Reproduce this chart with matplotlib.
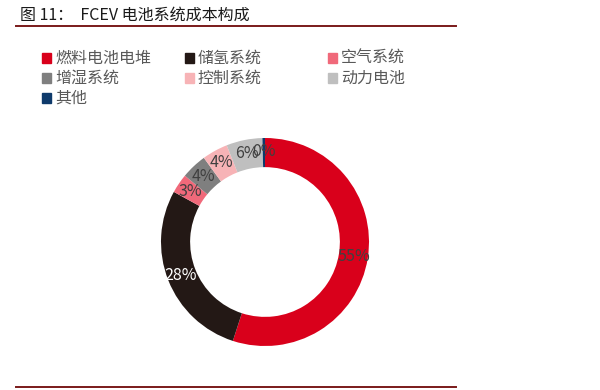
import matplotlib.pyplot as plt
from matplotlib.patches import Rectangle
from matplotlib.lines import Line2D

plt.rcParams['font.family'] = ['Noto Sans CJK SC', 'DejaVu Sans']

labels = ["燃料电池电堆", "储氢系统", "空气系统", "增湿系统", "控制系统", "动力电池", "其他"]
values = [55, 28, 3, 4, 4, 5.6, 0.4]
colors = ["#D9001B", "#231815", "#F0697A", "#7F7F7F", "#F7B3B6", "#BFBFBF", "#0E3A6B"]
text_colors = ["#404040", "white", "#404040", "#404040", "#404040", "#404040", "#404040"]

W, H = 600, 390
fig = plt.figure(figsize=(6, 3.9), dpi=100)

# titre + filets
fig.text(20 / W, 1 - 15 / H, "图 11：  FCEV 电池系统成本构成", fontsize=11.5,
         color="#1a1a1a", va="center", ha="left", fontweight="medium")
for y in (26, 387):
    fig.add_artist(Line2D([16 / W, 456 / W], [1 - y / H, 1 - y / H],
                          color="#7A1A1A", lw=1.4))

# légende manuelle (3 colonnes)
for i, name in enumerate(labels):
    col, row = i % 3, i // 3
    x = (42 + col * 143) / W
    y = 1 - (58 + row * 20) / H
    fig.add_artist(Rectangle((x, y - 5 / H), 9 / W, 10 / H, color=colors[i],
                             transform=fig.transFigure))
    fig.text(x + 13 / W, y, name, fontsize=11.5, color="#595959", va="center", ha="left")

# anneau
cx, cy, r = 265, 242, 104
ax = fig.add_axes([(cx - r) / W, (H - cy - r) / H, 2 * r / W, 2 * r / H])
wedges, texts, autotexts = ax.pie(values, colors=colors, startangle=90, counterclock=False,
                                  radius=1, wedgeprops=dict(width=0.28, linewidth=0),
                                  autopct=lambda p: f"{p:.0f}%", pctdistance=0.87,
                                  textprops=dict(fontsize=11.5))
for t, c in zip(autotexts, text_colors):
    t.set_color(c)
ax.set_xlim(-1, 1)
ax.set_ylim(-1, 1)
ax.set_aspect("auto")
ax.axis("off")

plt.savefig("out.png", dpi=100)
